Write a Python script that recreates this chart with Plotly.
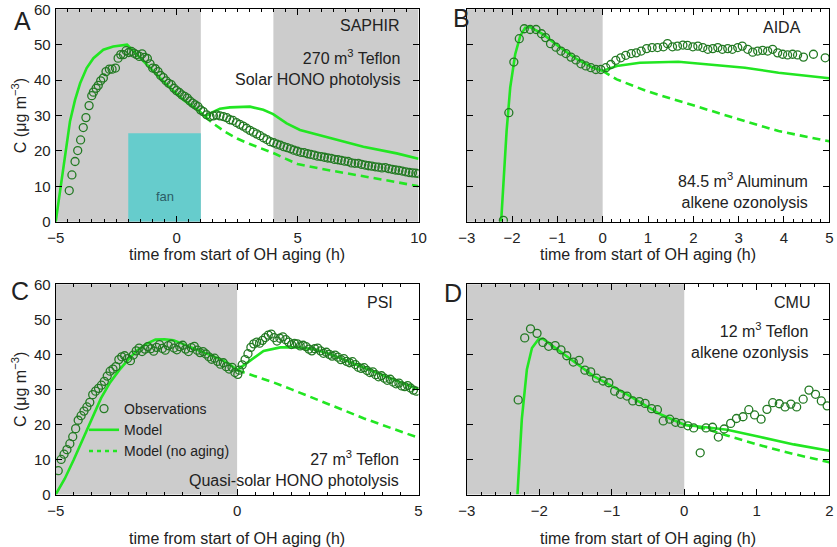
import plotly.graph_objects as go

# ---------------- data ----------------
# Panel A (SAPHIR)
A_obs_t = [-4.44, -4.33, -4.20, -4.09, -3.97, -3.86, -3.75, -3.62, -3.51, -3.44, -3.33, -3.24, -3.14, -3.03,
           -2.92, -2.78, -2.67, -2.53, -2.42, -2.31, -2.20, -2.09, -1.98, -1.87, -1.76, -1.65, -1.54, -1.43,
           -1.32, -1.21, -1.10, -0.99, -0.88, -0.77, -0.66, -0.55, -0.44, -0.33, -0.22, -0.11, 0.00, 0.11,
           0.22, 0.33, 0.44, 0.55, 0.66, 0.77, 0.88, 0.99, 1.10, 1.24, 1.38, 1.52, 1.65, 1.79, 1.93, 2.07,
           2.20, 2.33, 2.47, 2.61, 2.75, 2.89, 3.03, 3.17, 3.31, 3.45, 3.59, 3.73, 3.87, 4.01, 4.15, 4.29,
           4.43, 4.57, 4.71, 4.85, 4.99, 5.13, 5.27, 5.41, 5.55, 5.69, 5.83, 5.97, 6.11, 6.25, 6.39, 6.53,
           6.67, 6.81, 6.95, 7.09, 7.23, 7.37, 7.51, 7.65, 7.79, 7.93, 8.07, 8.21, 8.35, 8.49, 8.63, 8.77,
           8.91, 9.05, 9.19, 9.33, 9.47, 9.61, 9.75, 9.89, 10.0]
A_obs_y = [8.8, 13.2, 17.0, 20.1, 23.1, 26.6, 29.4, 32.8, 35.6, 36.6, 37.7, 38.5, 39.8, 40.6,
           42.4, 43.1, 43.1, 43.4, 46.2, 47.2, 47.2, 48.3, 47.8, 48.1, 47.6, 47.2, 46.7, 47.4,
           46.4, 46.1, 44.6, 43.4, 43.2, 42.4, 41.3, 40.7, 39.8, 39.1, 38.7, 37.7, 37.0, 36.5,
           35.8, 35.4, 34.9, 34.1, 33.5, 33.0, 32.5, 31.6, 31.1, 30.2, 29.7, 29.9, 30.2, 29.9, 29.7, 29.4,
           28.8, 28.6, 28.0, 27.5, 27.0, 26.4, 25.8, 25.3, 24.8, 24.3, 23.7, 23.2, 22.6, 22.3, 21.9, 21.6,
           21.2, 20.9, 20.6, 20.2, 19.9, 19.6, 19.5, 19.2, 19.0, 18.8, 18.5, 18.4, 18.2, 18.0, 17.9, 17.6,
           17.5, 17.3, 17.1, 17.0, 16.6, 16.5, 16.5, 16.2, 16.0, 15.8, 15.7, 15.5, 15.4, 15.2, 15.3, 15.0,
           14.8, 14.6, 14.5, 14.3, 14.1, 13.9, 13.8, 13.7, 13.6]
A_mod_t = [-5, -4.82, -4.68, -4.55, -4.41, -4.2, -3.99, -3.72, -3.44, -3.03, -2.62, -2.05, -1.65, -1.1,
           -0.41, 0.28, 0.96, 1.17, 1.38, 1.79, 2.2, 3.03, 3.58, 3.99, 4.55, 5.1, 6.34, 7.72, 9.1, 10]
A_mod_y = [0, 8.5, 16.0, 22.6, 28.3, 34.4, 39.1, 43.4, 46.2, 48.6, 49.5, 50.0, 47.2, 43.4,
           38.7, 34.4, 31.1, 29.7, 30.6, 31.9, 32.3, 32.5, 31.6, 30.4, 27.8, 25.9, 23.6, 21.2, 19.3, 17.8]
A_noag_t = [1.17, 1.5, 2.0, 2.5, 3.0, 3.5, 4.0, 4.5, 5.0, 6.0, 7.0, 8.0, 9.0, 10.0]
A_noag_y = [29.7, 27.8, 25.4, 23.5, 22.0, 20.7, 19.4, 17.8, 16.3, 14.9, 13.6, 12.5, 11.3, 10.0]

# Panel B (AIDA)
B_obs_t = [-2.19, -2.07, -1.96, -1.84, -1.73, -1.60, -1.47, -1.35, -1.26, -1.15, -1.03, -0.92, -0.81,
           -0.70, -0.59, -0.48, -0.37, -0.26, -0.15, -0.04, 0.07, 0.18, 0.29, 0.40, 0.51, 0.63, 0.74,
           0.85, 0.97, 1.09, 1.21, 1.34, 1.43, 1.54, 1.65, 1.77, 1.87, 1.99, 2.10, 2.21, 2.32, 2.43,
           2.54, 2.64, 2.76, 2.86, 2.98, 3.08, 3.20, 3.31, 3.42, 3.53, 3.64, 3.75, 3.86, 3.97, 4.08,
           4.19, 4.30, 4.43, 4.65, 4.91]
B_obs_y = [0.4, 30.8, 45.1, 51.7, 54.5, 54.3, 54.3, 53.1, 52.0, 50.3, 49.3, 48.2, 47.5,
           46.5, 45.7, 44.6, 44.0, 43.5, 43.0, 43.0, 43.5, 44.4, 45.6, 46.3, 47.0, 47.5, 47.7,
           48.2, 48.9, 49.2, 49.2, 49.4, 50.3, 49.4, 49.6, 49.9, 49.8, 49.4, 49.6, 49.2, 48.7, 48.9,
           49.2, 48.7, 48.9, 48.7, 49.2, 49.6, 48.7, 47.9, 48.2, 48.4, 48.2, 48.7, 47.7, 47.3, 47.1,
           47.3, 47.1, 46.5, 47.3, 46.3]
B_mod_t = [-2.24, -2.12, -2.04, -1.93, -1.82, -1.71, -1.6, -1.31, -0.94, -0.57, -0.21, 0, 0.31, 0.82,
           1.67, 2.41, 3.14, 3.88, 5.0]
B_mod_y = [0, 25.6, 37.9, 47.3, 52.4, 54.8, 55.0, 52.9, 49.2, 45.9, 43.5, 42.6, 44.0, 44.9,
           45.2, 44.4, 43.5, 42.1, 40.5]
B_noag_t = [0, 0.31, 0.97, 1.67, 2.41, 3.14, 3.88, 5.0]
B_noag_y = [42.6, 40.2, 36.9, 34.1, 31.3, 28.4, 25.6, 22.7]

# Panel C (PSI)
C_obs_t = [-4.93, -4.85, -4.77, -4.69, -4.61, -4.53, -4.45, -4.38, -4.30, -4.22, -4.14, -4.06, -3.98,
           -3.90, -3.82, -3.74, -3.66, -3.58, -3.50, -3.42, -3.34, -3.26, -3.18, -3.10, -3.02, -2.94,
           -2.86, -2.78, -2.70, -2.62, -2.54, -2.46, -2.38, -2.30, -2.22, -2.14, -2.06, -1.98, -1.90,
           -1.82, -1.74, -1.66, -1.58, -1.50, -1.42, -1.34, -1.26, -1.18, -1.10, -1.02, -0.94, -0.86,
           -0.78, -0.70, -0.62, -0.54, -0.46, -0.38, -0.30, -0.22, -0.14, -0.06, 0.02,
           0.06, 0.14, 0.22, 0.30, 0.38, 0.46, 0.54, 0.62, 0.70, 0.78, 0.86, 0.94, 1.02, 1.10, 1.18,
           1.26, 1.34, 1.42, 1.50, 1.58, 1.66, 1.74, 1.82, 1.90, 1.98, 2.06, 2.14, 2.22, 2.30, 2.38,
           2.46, 2.54, 2.62, 2.70, 2.78, 2.86, 2.94, 3.02, 3.10, 3.18, 3.26, 3.34, 3.42, 3.50, 3.58,
           3.66, 3.74, 3.82, 3.90, 3.98, 4.06, 4.14, 4.22, 4.30, 4.38, 4.46, 4.54, 4.62, 4.70, 4.78,
           4.86, 4.94]
C_obs_y = [6.8, 10.0, 11.5, 12.8, 14.5, 16.5, 18.8, 21.2, 22.5, 23.8, 25.0, 26.3, 28.5,
           29.5, 30.3, 31.2, 32.3, 33.8, 35.2, 35.8, 36.5, 38.5, 39.3, 39.6, 38.8, 38.2,
           39.8, 41.0, 41.8, 40.8, 41.5, 42.2, 41.6, 40.9, 42.0, 42.8, 41.7, 41.2, 42.5,
           42.9, 41.8, 41.3, 42.2, 42.6, 41.5, 40.8, 41.9, 42.3, 41.2, 40.5, 40.8, 40.1,
           39.3, 38.6, 38.9, 38.0, 37.2, 37.6, 36.5, 35.8, 36.3, 34.8, 34.3,
           35.5, 37.0, 38.5, 40.2, 42.0, 43.0, 43.5, 43.2, 44.0, 44.8, 45.5, 45.8, 44.8, 43.8, 44.6,
           45.0, 44.2, 43.5, 42.8, 43.1, 43.0, 42.4, 42.6, 42.2, 41.5, 41.0, 41.6, 41.8, 41.0, 40.3,
           40.6, 40.0, 39.5, 39.8, 39.2, 38.5, 38.8, 38.0, 37.6, 37.9, 37.1, 36.3, 36.0, 36.2, 35.4,
           34.8, 35.0, 34.2, 33.6, 33.9, 33.2, 32.6, 32.9, 32.1, 31.6, 31.8, 31.0, 30.8, 31.1, 30.4,
           29.8, 29.5]
C_mod_t = [-5, -4.75, -4.5, -4.25, -4, -3.75, -3.5, -3.25, -3, -2.75, -2.5, -2.25, -2, -1.75, -1.5,
           -1.25, -1, -0.75, -0.5, -0.25, 0, 0.36, 0.73, 1.19, 1.65, 2.1, 2.56, 3.02, 3.48, 3.94, 4.4, 5.0]
C_mod_y = [0, 4.5, 10.0, 16.0, 22.0, 27.5, 32.0, 35.5, 38.5, 41.2, 43.0, 44.2, 44.3, 44.0, 43.0,
           42.0, 41.0, 40.0, 38.8, 37.5, 35.5, 38.2, 41.0, 42.0, 42.0, 41.5, 40.1, 38.2, 36.3, 34.4, 32.5, 30.0]
C_noag_t = [0, 0.5, 1.0, 1.5, 2.0, 2.5, 3.0, 3.5, 4.0, 4.5, 5.0]
C_noag_y = [35.5, 33.8, 32.0, 30.0, 28.0, 25.9, 23.8, 21.7, 19.8, 17.9, 16.2]

# Panel D (CMU)
D_obs_t = [-2.29, -2.20, -2.12, -2.03, -1.95, -1.87, -1.78, -1.70, -1.62, -1.53, -1.45, -1.37, -1.29,
           -1.21, -1.12, -1.04, -0.96, -0.88, -0.79, -0.71, -0.62, -0.54, -0.45, -0.37, -0.29, -0.20,
           -0.12, -0.04, 0.05, 0.13, 0.22, 0.30, 0.39, 0.47, 0.55, 0.64, 0.72, 0.81, 0.89, 0.97, 1.06,
           1.14, 1.22, 1.31, 1.39, 1.47, 1.55, 1.64, 1.72, 1.81, 1.89, 1.97]
D_obs_y = [27.0, 44.7, 47.3, 46.0, 43.4, 42.3, 42.5, 41.3, 39.6, 37.8, 38.3, 35.5, 35.0,
           33.2, 32.4, 31.9, 29.5, 28.6, 28.1, 26.7, 26.5, 26.0, 24.5, 24.2, 21.0, 21.5,
           20.6, 20.3, 19.6, 19.0, 11.9, 19.0, 19.2, 16.4, 18.7, 20.3, 21.7, 22.2, 24.2, 22.7, 21.5,
           24.3, 26.2, 25.9, 25.0, 25.8, 25.0, 27.2, 29.8, 28.6, 26.7, 25.3]
D_mod_t = [-2.30, -2.24, -2.17, -2.10, -2.01, -1.95, -1.71, -1.25, -0.79, -0.33, 0, 0.3, 0.59, 1.05, 1.51, 2.0]
D_mod_y = [0, 21.5, 35.7, 41.8, 44.3, 44.5, 40.8, 33.8, 28.6, 22.9, 19.9, 19.2, 18.5, 16.4, 14.3, 12.5]
D_noag_t = [0, 0.3, 0.6, 1.0, 1.5, 2.0]
D_noag_y = [19.9, 18.7, 16.8, 14.3, 11.6, 9.2]

# shaded (dark-chamber / pre-aging) intervals, per panel
A_shade = [(-5, 1), (4, 10)]
B_shade = [(-3, 0)]
C_shade = [(-5, 0)]
D_shade = [(-3, 0)]
A_fan = (-2, 1, 25)

x_ranges = {"A": [-5, 10], "B": [-3, 5], "C": [-5, 5], "D": [-3, 2]}
x_dtick = {"A": 5, "B": 1, "C": 5, "D": 1}
x_minor = {"A": 0.5, "B": 0.2, "C": 0.5, "D": 0.2}
y_ticks = [0, 10, 20, 30, 40, 50, 60]

# ---------------- styling ----------------
W, H = 837, 547
FONT = "Helvetica, Liberation Sans, Arial, sans-serif"
OBS_COL = "#237a23"
MOD_COL = "#22e622"
GRAY = "#cccccc"
TXT = "#222222"

def px2x(p):
    return p / W

def px2y(p):
    return 1 - p / H

dom_x = {"A": [px2x(55.7), px2x(418.5)], "C": [px2x(55.7), px2x(418.5)],
         "B": [px2x(466.7), px2x(829.3)], "D": [px2x(466.7), px2x(829.3)]}
dom_y = {"A": [px2y(221.7), px2y(9.3)], "B": [px2y(221.7), px2y(9.3)],
         "C": [px2y(494.5), px2y(284.3)], "D": [px2y(494.5), px2y(284.3)]}

fig = go.Figure()

panels = {
    "A": (A_obs_t, A_obs_y, A_mod_t, A_mod_y, A_noag_t, A_noag_y, A_shade),
    "B": (B_obs_t, B_obs_y, B_mod_t, B_mod_y, B_noag_t, B_noag_y, B_shade),
    "C": (C_obs_t, C_obs_y, C_mod_t, C_mod_y, C_noag_t, C_noag_y, C_shade),
    "D": (D_obs_t, D_obs_y, D_mod_t, D_mod_y, D_noag_t, D_noag_y, D_shade),
}
axid = {"A": "", "B": "2", "C": "3", "D": "4"}

shapes = []
for key, (ot, oy, mt, my, nt, ny, shade) in panels.items():
    xa, ya = "x" + axid[key], "y" + axid[key]
    leg = key == "C"
    for (s0, s1) in shade:
        shapes.append(dict(type="rect", xref=xa, yref=ya + " domain", x0=s0, x1=s1, y0=0, y1=1,
                           fillcolor=GRAY, line=dict(width=0), layer="below"))
    if key == "A":
        shapes.append(dict(type="rect", xref=xa, yref=ya, x0=A_fan[0], x1=A_fan[1], y0=0, y1=A_fan[2],
                           fillcolor="#66cccc", line=dict(width=0), layer="below"))
    fig.add_trace(go.Scatter(x=nt, y=ny, mode="lines", xaxis=xa, yaxis=ya,
                             line=dict(color=MOD_COL, width=2.6, dash="8px,5px"),
                             name="Model (no aging)", showlegend=False, legendrank=3))
    fig.add_trace(go.Scatter(x=mt, y=my, mode="lines", xaxis=xa, yaxis=ya,
                             line=dict(color=MOD_COL, width=2.6),
                             name="Model", showlegend=leg, legendrank=2))
    fig.add_trace(go.Scatter(x=ot, y=oy, mode="markers", xaxis=xa, yaxis=ya,
                             marker=dict(symbol="circle-open", size=8, color=OBS_COL, line=dict(width=1.3)),
                             name="Observations", showlegend=leg, legendrank=1))
    if leg:
        fig.add_trace(go.Scatter(x=[None], y=[None], mode="lines", xaxis=xa, yaxis=ya,
                                 line=dict(color=MOD_COL, width=2.6, dash="4px,4px"),
                                 name="Model (no aging)", showlegend=True, legendrank=3))

layout = dict(width=W, height=H, margin=dict(l=0, r=0, t=0, b=0, pad=0, autoexpand=False),
              paper_bgcolor="white", plot_bgcolor="white",
              font=dict(family=FONT, size=15, color=TXT),
              shapes=shapes, showlegend=True,
              legend=dict(x=px2x(84), y=px2y(393), xanchor="left", yanchor="top",
                          bgcolor="rgba(0,0,0,0)", font=dict(size=14, color=TXT),
                          tracegroupgap=0, itemwidth=30))

for key in ["A", "B", "C", "D"]:
    n = axid[key]
    top = key in ("A", "B")
    layout["xaxis" + n] = dict(
        domain=dom_x[key], anchor="y" + n, range=x_ranges[key], dtick=x_dtick[key], tick0=0,
        showline=True, linecolor="black", linewidth=1, mirror="ticks", automargin=False,
        ticks="inside", ticklen=6, tickwidth=1, tickcolor="black", ticklabelstandoff=2,
        minor=dict(dtick=x_minor[key], tick0=0, ticks="inside", ticklen=3, tickwidth=1, tickcolor="black"),
        showgrid=False, zeroline=False, tickfont=dict(size=15, color=TXT),
        title=dict(text="time from start of OH aging (h)", font=dict(size=16, color=TXT),
                   standoff=3 if top else 15),
    )
    show_y = key in ("A", "C")
    layout["yaxis" + n] = dict(
        domain=dom_y[key], anchor="x" + n, range=[0, 60], tickvals=y_ticks,
        showline=True, linecolor="black", linewidth=1, mirror="ticks", automargin=False,
        ticks="inside", ticklen=6, tickwidth=1, tickcolor="black", ticklabelstandoff=1,
        showgrid=False, zeroline=False, showticklabels=show_y, tickfont=dict(size=15, color=TXT),
        title=dict(text="C (\u03bcg m<sup>\u22123</sup>)" if show_y else "", font=dict(size=16, color=TXT),
                   standoff=3),
    )

fig.update_layout(**layout)

def ann(text, x, y, size=16, xanchor="right", align="right", **kw):
    fig.add_annotation(text=text, x=x, y=y, xref="paper", yref="paper", showarrow=False,
                       xanchor=xanchor, yanchor="middle", align=align,
                       font=dict(size=size, color=TXT, family=FONT), **kw)

# panel labels
ann("A", px2x(22.5), px2y(21), size=25, xanchor="center")
ann("B", px2x(461), px2y(18), size=25, xanchor="center")
ann("C", px2x(20), px2y(291), size=25, xanchor="center")
ann("D", px2x(452.5), px2y(293), size=25, xanchor="center")

# chamber annotations
ann("SAPHIR", px2x(402), px2y(26))
ann("270 m<sup>3</sup> Teflon<br>Solar HONO photolysis", px2x(402), px2y(67.5))
ann("AIDA", px2x(803), px2y(27))
ann("84.5 m<sup>3</sup> Aluminum<br>alkene ozonolysis", px2x(810), px2y(190))
ann("PSI", px2x(395), px2y(302.7))
ann("27 m<sup>3</sup> Teflon<br>Quasi-solar HONO photolysis", px2x(401), px2y(468))
ann("CMU", px2x(811.7), px2y(302.7))
ann("12 m<sup>3</sup> Teflon<br>alkene ozonlysis", px2x(810), px2y(340.8))

# fan label
fig.add_annotation(text="fan", x=-0.5, y=7, xref="x", yref="y", showarrow=False,
                   font=dict(size=13, color="#2b5c66", family=FONT))

fig.write_html("out.html", config={"displayModeBar": False},
               post_script="document.body.style.margin='0px';document.body.style.overflow='hidden';")
